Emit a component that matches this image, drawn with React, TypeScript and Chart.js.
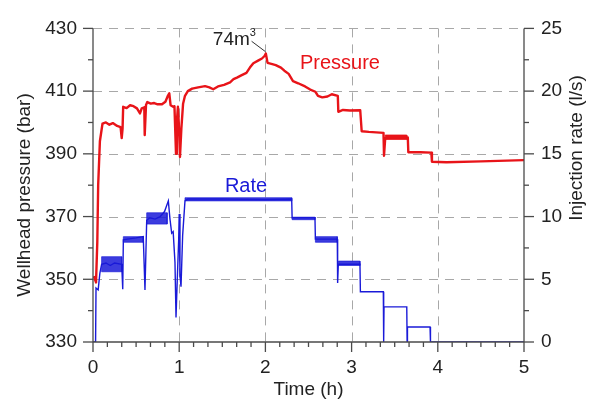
import React, { useEffect, useRef } from "react";
import { Chart, registerables } from "chart.js";

Chart.register(...registerables);

// ---- data (time in hours) ----
const pressureTime = [
  0.01, 0.035, 0.05, 0.06, 0.08, 0.11, 0.15, 0.19, 0.23, 0.28, 0.32, 0.333, 0.343, 0.35,
  0.39, 0.43, 0.47, 0.51, 0.545, 0.565, 0.595, 0.6, 0.615, 0.63, 0.67, 0.71, 0.75, 0.8, 0.84,
  0.87, 0.885, 0.9, 0.93, 0.945, 0.963, 0.972, 0.985, 0.995, 1.009, 1.025, 1.045, 1.067, 1.1,
  1.15, 1.22, 1.3, 1.35, 1.395, 1.45, 1.52, 1.59, 1.63, 1.67, 1.72, 1.78, 1.82, 1.86, 1.92,
  1.96, 1.99, 2.005, 2.025, 2.08, 2.12, 2.18, 2.22, 2.27, 2.32, 2.38, 2.46, 2.52, 2.58, 2.61,
  2.66, 2.72, 2.77, 2.84, 2.846, 2.9, 2.98, 3.1, 3.117, 3.2, 3.37, 3.376, 3.39, 3.5, 3.652,
  3.658, 3.8, 3.925, 3.932, 4.1, 4.5, 5.0,
];
const pressureValue = [
  351, 349, 362, 380, 394, 399.6, 400, 399.3, 399.8, 398.9, 398.5, 395, 398, 405,
  404.6, 405.5, 405.2, 404.5, 402.9, 404.5, 404.8, 396, 405.6, 406.5, 406, 406.2, 405.8, 405.8, 406.6,
  408.6, 409.3, 405.5, 405, 405.2, 390, 400, 405, 400, 389, 398, 406, 408.5, 410,
  410.8, 411.2, 411.6, 411.2, 410.6, 411.5, 412, 412.8, 413.8, 414.3, 415, 415.8, 417.5, 418.9, 419.8,
  420.4, 421.2, 422, 419, 418.6, 418.3, 417.5, 416.5, 415.5, 413.2, 412.5, 411.5, 410.5, 409.8, 408.5,
  408, 408.3, 409, 408.5, 403.4, 404, 403.8, 403.9, 397.2, 397, 396.7, 389.4, 395, 395.2, 395.2,
  390.5, 390.5, 390.4, 387.5, 387.3, 387.6, 388,
];

const rateTime = [
  0.0, 0.03, 0.035, 0.06, 0.08, 0.1, 0.15, 0.2, 0.25, 0.333, 0.345, 0.352, 0.4, 0.5, 0.583,
  0.603, 0.623, 0.66, 0.72, 0.78, 0.83, 0.874, 0.893, 0.913, 0.93, 0.951, 0.963, 0.978, 0.994,
  1.0, 1.009, 1.021, 1.04, 1.067, 1.1, 1.5, 2.0, 2.305, 2.31, 2.575, 2.58, 2.834, 2.838, 2.846,
  3.097, 3.102, 3.368, 3.372, 3.376, 3.64, 3.644, 3.648, 3.91, 3.915, 5.0,
];
const rateValue = [
  0, 0, 4.3, 4.15, 5.5, 6.2, 6.3, 6.1, 6.3, 6.2, 4.2, 8.15, 8.2, 8.3, 8.4,
  4.15, 9.7, 9.9, 9.8, 10.0, 10.4, 11.25, 9.8, 8.67, 8.8, 6.35, 1.96, 5.05, 8.15,
  10.2, 5.3, 4.4, 8.5, 11.25, 11.4, 11.4, 11.35, 11.4, 9.9, 9.9, 8.2, 8.2, 4.7, 6.2,
  6.2, 4.0, 4.0, 0, 2.8, 2.8, 0, 1.2, 1.2, 0, 0,
];

// noisy envelopes of the rate record
const rateBandStart = [0.1, 0.352, 0.623, 1.067, 2.31, 2.58, 2.846];
const rateBandEnd = [0.333, 0.583, 0.86, 2.305, 2.575, 2.834, 3.097];
const rateBandLow = [5.6, 7.95, 9.4, 11.25, 9.75, 7.95, 6.1];
const rateBandHigh = [6.8, 8.4, 10.3, 11.5, 9.95, 8.4, 6.45];

// noisy envelope of the pressure record
const pressureBandStart = [3.39];
const pressureBandEnd = [3.64];
const pressureBandLow = [394.6];
const pressureBandHigh = [396.0];

const leftTicks = [330, 350, 370, 390, 410, 430];
const rightTicks = [0, 5, 10, 15, 20, 25];
const timeTicks = [0, 1, 2, 3, 4, 5];

const RED = "#e81419";
const BLUE = "#1a1ad8";
const BLUE_BAND = "rgba(26,26,216,0.85)";
const FONT = "'Liberation Sans', Arial, sans-serif";

const axesPlugin = {
  id: "customAxes",
  beforeDatasetsDraw(chart: any) {
    const { ctx, chartArea: a, scales } = chart;
    ctx.save();
    ctx.strokeStyle = "#a8a8a8";
    ctx.lineWidth = 1;
    ctx.setLineDash([9, 7]);
    for (const v of leftTicks) {
      if (v === 330) continue;
      const y = Math.round(scales.y.getPixelForValue(v)) + 0.5;
      ctx.beginPath();
      ctx.moveTo(a.left, y);
      ctx.lineTo(a.right, y);
      ctx.stroke();
    }
    for (const v of timeTicks) {
      if (v === 0 || v === 5) continue;
      const x = Math.round(scales.x.getPixelForValue(v)) + 0.5;
      ctx.beginPath();
      ctx.moveTo(x, a.top);
      ctx.lineTo(x, a.bottom);
      ctx.stroke();
    }
    ctx.restore();
  },
  afterDatasetsDraw(chart: any) {
    const { ctx, chartArea: a, scales } = chart;
    ctx.save();
    ctx.strokeStyle = "#4a4a4a";
    ctx.lineWidth = 1.3;
    ctx.setLineDash([]);
    const line = (x1: number, y1: number, x2: number, y2: number) => {
      ctx.beginPath();
      ctx.moveTo(x1, y1);
      ctx.lineTo(x2, y2);
      ctx.stroke();
    };
    const L = a.left, R = a.right, B = a.bottom;
    line(L, a.top, L, B);
    line(R, a.top, R, B);
    line(L, B, R, B);
    for (let v = 330; v <= 430; v += 10) {
      const y = scales.y.getPixelForValue(v);
      line(L - ((v - 330) % 20 === 0 ? 10 : 5), y, L, y);
    }
    for (let v = 0; v <= 25; v += 2.5) {
      const y = scales.y1.getPixelForValue(v);
      line(R, y, R + (v % 5 === 0 ? 10 : 5), y);
    }
    for (let k = 0; k <= 30; k++) {
      const x = scales.x.getPixelForValue(k / 6);
      line(x, B, x, B + (k % 6 === 0 ? 10 : 5));
    }
    ctx.restore();
  },
  afterDraw(chart: any) {
    const { ctx, scales } = chart;
    ctx.save();
    ctx.fillStyle = "#222";
    ctx.textAlign = "center";
    ctx.textBaseline = "middle";
    ctx.font = `19px ${FONT}`;
    ctx.save();
    ctx.translate(25, 195);
    ctx.rotate(-Math.PI / 2);
    ctx.fillText("Wellhead pressure (bar)", 0, 0);
    ctx.restore();
    ctx.save();
    ctx.translate(577, 148);
    ctx.rotate(-Math.PI / 2);
    ctx.fillText("Injection rate (l/s)", 0, 0);
    ctx.restore();

    ctx.textAlign = "left";
    ctx.font = `20px ${FONT}`;
    ctx.fillStyle = RED;
    ctx.fillText("Pressure", scales.x.getPixelForValue(2.4), scales.y.getPixelForValue(418.7));
    ctx.fillStyle = BLUE;
    ctx.fillText("Rate", scales.x.getPixelForValue(1.53), scales.y1.getPixelForValue(12.4));

    ctx.fillStyle = "#222";
    const tx = scales.x.getPixelForValue(1.39);
    const ty = scales.y.getPixelForValue(426.4);
    ctx.font = `19px ${FONT}`;
    ctx.fillText("74m", tx, ty);
    const w = ctx.measureText("74m").width;
    ctx.font = `11px ${FONT}`;
    ctx.fillText("3", tx + w, ty - 7);
    ctx.strokeStyle = "#333";
    ctx.lineWidth = 1;
    ctx.beginPath();
    ctx.moveTo(scales.x.getPixelForValue(1.84), scales.y.getPixelForValue(425.9));
    ctx.lineTo(scales.x.getPixelForValue(2.0), scales.y.getPixelForValue(422.6));
    ctx.stroke();
    ctx.restore();
  },
};

function bandDatasets(s: number[], e: number[], lo: number[], hi: number[], color: string, axis: string) {
  return s.map((_, i) => ({
    type: "line" as const,
    data: [
      { x: s[i], y: hi[i] },
      { x: e[i], y: hi[i] },
      { x: e[i], y: lo[i] },
      { x: s[i], y: lo[i] },
      { x: s[i], y: hi[i] },
    ],
    yAxisID: axis,
    borderWidth: 0.8,
    borderColor: color,
    backgroundColor: color,
    fill: "shape",
    pointRadius: 0,
    tension: 0,
  }));
}

export default function App() {
  const ref = useRef<HTMLCanvasElement>(null);
  useEffect(() => {
    if (!ref.current) return;
    const tickFont = { family: FONT, size: 19 };
    const chart = new Chart(ref.current, {
      type: "line",
      data: {
        datasets: [
          ...bandDatasets(rateBandStart, rateBandEnd, rateBandLow, rateBandHigh, BLUE_BAND, "y1"),
          ...bandDatasets(pressureBandStart, pressureBandEnd, pressureBandLow, pressureBandHigh, RED, "y"),
          {
            label: "Rate",
            data: rateTime.map((t, i) => ({ x: t, y: rateValue[i] })),
            yAxisID: "y1",
            borderColor: BLUE,
            borderWidth: 1.4,
            pointRadius: 0,
            tension: 0,
            fill: false,
          },
          {
            label: "Pressure",
            data: pressureTime.map((t, i) => ({ x: t, y: pressureValue[i] })),
            yAxisID: "y",
            borderColor: RED,
            borderWidth: 2.4,
            pointRadius: 0,
            tension: 0,
            fill: false,
            borderJoinStyle: "round",
          },
        ],
      } as any,
      options: {
        responsive: false,
        animation: false,
        layout: { padding: { top: 20, left: 0, right: 0, bottom: 0 } },
        plugins: { legend: { display: false }, tooltip: { enabled: false } },
        scales: {
          x: {
            type: "linear",
            position: "bottom",
            min: 0,
            max: 5,
            ticks: { stepSize: 1, font: tickFont, color: "#222", padding: 14 },
            grid: { display: false, drawTicks: false },
            border: { display: false },
            title: { display: true, text: "Time (h)", font: tickFont, color: "#222", padding: { top: 0, bottom: 1 } },
            afterFit: (s: any) => { s.height = 60; },
          },
          y: {
            type: "linear",
            position: "left",
            min: 330,
            max: 430,
            ticks: { stepSize: 20, font: tickFont, color: "#222", padding: 16 },
            grid: { display: false, drawTicks: false },
            border: { display: false },
            afterFit: (s: any) => { s.width = 93; },
          },
          y1: {
            type: "linear",
            position: "right",
            min: 0,
            max: 25,
            ticks: { stepSize: 5, font: tickFont, color: "#222", padding: 17 },
            grid: { display: false, drawTicks: false },
            border: { display: false },
            afterFit: (s: any) => { s.width = 72; },
          },
        },
      } as any,
      plugins: [axesPlugin],
    });
    return () => chart.destroy();
  }, []);
  return (
    <div style={{ position: "fixed", left: 0, top: 0, width: 596, height: 402, background: "#fff" }}>
      <canvas ref={ref} width={596} height={402} style={{ display: "block" }} />
    </div>
  );
}
